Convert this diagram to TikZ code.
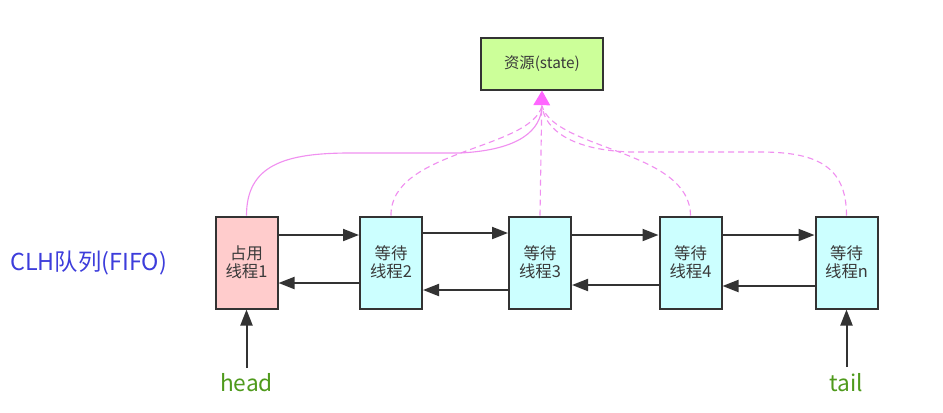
\documentclass[tikz,border=0pt]{standalone}
\usepackage{fontspec}
\setmainfont{Noto Sans CJK SC}
\usetikzlibrary{arrows.meta}
\definecolor{boxline}{HTML}{333333}
\definecolor{txt}{HTML}{3A3A3A}
\definecolor{pinkfill}{HTML}{FFCCCC}
\definecolor{cyanfill}{HTML}{CCFFFF}
\definecolor{greenfill}{HTML}{CCFF99}
\definecolor{pinkline}{HTML}{F090F0}
\definecolor{pinktip}{HTML}{FF66FF}
\definecolor{clhblue}{HTML}{3D3DDB}
\definecolor{labgreen}{HTML}{4F9A1C}
\begin{document}
\begin{tikzpicture}[x=0.75pt,y=-0.75pt,
  thread/.style={draw=boxline,line width=1.5pt,minimum width=46.5pt,minimum height=69pt,
    inner sep=0pt,align=center,text=txt,font=\fontsize{12.3}{13.5}\selectfont},
  res/.style={draw=boxline,line width=1.5pt,fill=greenfill,minimum width=92pt,minimum height=39pt,
    inner sep=0pt,text=txt,font=\fontsize{11.5}{13}\selectfont},
  link/.style={draw=boxline,line width=1.5pt,-{Triangle[length=12pt,width=9pt]}},
  share/.style={draw=pinkline,line width=0.85pt},
  sharedash/.style={share,dash pattern=on 4.5pt off 3pt},
  lab/.style={text=labgreen,font=\fontsize{17}{20}\selectfont}]
\useasboundingbox (0,0) rectangle (943,412);

\node[res] (res) at (542,63.5) {资源(state)};

\node[thread,fill=pinkfill] (b1) at (246.5,262.5) {占用\\线程1};
\node[thread,fill=cyanfill] (b2) at (391,262.5) {等待\\线程2};
\node[thread,fill=cyanfill] (b3) at (540,262.5) {等待\\线程3};
\node[thread,fill=cyanfill] (b4) at (690.5,262.5) {等待\\线程4};
\node[thread,fill=cyanfill] (bn) at (846.5,262.5) {等待\\线程n};

\node[text=clhblue,font=\fontsize{17.5}{20}\selectfont,anchor=west,inner sep=0pt] (clh) at (10,263) {CLH队列(FIFO)};

% forward / backward links
\draw[link] (b1.east |- 0,235) -- (b2.west |- 0,235);
\draw[link] (b2.west |- 0,283) -- (b1.east |- 0,283);
\draw[link] (b2.east |- 0,233) -- (b3.west |- 0,233);
\draw[link] (b3.west |- 0,290) -- (b2.east |- 0,290);
\draw[link] (b3.east |- 0,235) -- (b4.west |- 0,235);
\draw[link] (b4.west |- 0,285) -- (b3.east |- 0,285);
\draw[link] (b4.east |- 0,235) -- (bn.west |- 0,235);
\draw[link] (bn.west |- 0,286) -- (b4.east |- 0,286);

% head / tail
\node[lab] (head) at (246.5,383) {head};
\node[lab] (tail) at (846.5,383) {tail};
\coordinate (hs) at (246.5,368);
\coordinate (ts) at (846.5,367);
\draw[link] (hs) -- (b1.south);
\draw[link] (ts) -- (bn.south);

% resource connectors
\coordinate (tip) at (542,106);
\draw[share] (b1.north) .. controls (246.5,165) and (285,153) .. (350,153) -- (460,153)
  .. controls (520,150) and (541,130) .. (tip);
\draw[sharedash] (b2.north) .. controls (390,150) and (530,150) .. (tip);
\draw[sharedash] (b4.north) .. controls (690,150) and (555,150) .. (tip);
\draw[sharedash] (bn.north) .. controls (846.5,165) and (815,152) .. (760,152) -- (630,152)
  .. controls (572,150) and (545,130) .. (tip);
\draw[sharedash,-{Triangle[length=11pt,width=12.5pt,color=pinktip]}] (b3.north) -- (res.south);
\end{tikzpicture}
\end{document}
